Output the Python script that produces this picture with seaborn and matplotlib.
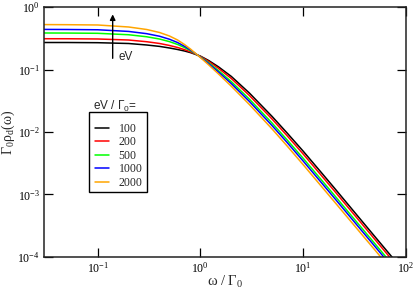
import matplotlib
matplotlib.use("Agg")
import matplotlib.pyplot as plt
from matplotlib.patches import Rectangle
import pandas as pd
import seaborn as sns

# omega / Gamma_0 sample points
omega = [0.03, 0.05, 0.1, 0.2, 0.3, 0.4, 0.5, 0.6, 0.7, 0.8, 1.0, 1.2, 1.5,
         2.0, 3.0, 5.0, 7.0, 10, 15, 20, 30, 50, 70, 100]

# Gamma_0 rho_d(omega) for each eV / Gamma_0
rho_100 = [0.2724, 0.2724, 0.2705, 0.2626, 0.2485, 0.2360, 0.2225, 0.2104,
           0.1991, 0.1877, 0.1649, 0.1407, 0.1111, 0.07795, 0.04222, 0.01773,
           0.009638, 0.004958, 0.002258, 0.001288, 0.0005779, 0.0002109,
           0.0001089, 0.00005418]
rho_200 = [0.3131, 0.3129, 0.3103, 0.2986, 0.2804, 0.2629, 0.2442, 0.2266,
           0.2095, 0.1931, 0.1632, 0.1361, 0.1051, 0.07223, 0.03861, 0.01609,
           0.008712, 0.004465, 0.002030, 0.001158, 0.0005201, 0.0001901,
           0.00009818, 0.00004884]
rho_500 = [0.3870, 0.3861, 0.3826, 0.3629, 0.3367, 0.3098, 0.2814, 0.2535,
           0.2262, 0.2014, 0.1605, 0.1294, 0.09670, 0.06434, 0.03371, 0.01388,
           0.007471, 0.003806, 0.001727, 0.0009851, 0.0004429, 0.0001623,
           0.00008380, 0.00004169]
rho_1000 = [0.4417, 0.4404, 0.4360, 0.4100, 0.3775, 0.3434, 0.3073, 0.2720,
            0.2373, 0.2069, 0.1589, 0.1253, 0.09177, 0.05985, 0.03096,
            0.01265, 0.006789, 0.003445, 0.001561, 0.0008905, 0.0004007,
            0.0001470, 0.00007590, 0.00003776]
rho_2000 = [0.5279, 0.5259, 0.5201, 0.4831, 0.4404, 0.3944, 0.3465, 0.2989,
            0.2532, 0.2144, 0.1566, 0.1201, 0.08551, 0.05427, 0.02761,
            0.01117, 0.005964, 0.003011, 0.001361, 0.0007767, 0.0003498,
            0.0001286, 0.00006639, 0.00003304]

series_labels = ["100", "200", "500", "1000", "2000"]
series_values = [rho_100, rho_200, rho_500, rho_1000, rho_2000]
colors = ["#000000", "#ff0000", "#00ff00", "#0000ff", "#ffa500"]

frames = []
for lab, vals in zip(series_labels, series_values):
    frames.append(pd.DataFrame({"omega": omega, "rho": vals, "eV": lab}))
df = pd.concat(frames, ignore_index=True)

sns.set_style("ticks")
plt.rcParams["font.family"] = ["Liberation Serif", "DejaVu Serif"]
plt.rcParams["mathtext.fontset"] = "custom"
plt.rcParams["mathtext.rm"] = "Liberation Serif"
plt.rcParams["mathtext.it"] = "Liberation Serif:italic"
plt.rcParams["mathtext.default"] = "regular"

fig = plt.figure(figsize=(4.15, 2.95), dpi=100)
ax = fig.add_axes([0.106, 0.1298, 0.8716, 0.8455])

sns.lineplot(data=df, x="omega", y="rho", hue="eV", palette=colors,
             hue_order=series_labels, linewidth=1.1, ax=ax, sort=True,
             estimator=None)

ax.set_xscale("log")
ax.set_yscale("log")
ax.set_xlim(0.03, 100)
ax.set_ylim(1e-4, 1)

ax.minorticks_off()
ax.tick_params(which="major", direction="in", length=6.5, width=0.9,
               top=True, right=True, labelsize=8.5, pad=3.0, colors="black")
for sp in ax.spines.values():
    sp.set_linewidth(1.1)
    sp.set_color("#222222")

ax.set_xlabel(r"$\mathregular{ω\ /\ Γ_0}$", fontsize=10.5)
ax.set_ylabel(r"$\mathregular{Γ_0ρ_d(ω)}$", fontsize=10)
ax.xaxis.set_label_coords(0.5, -0.07)
ax.yaxis.set_label_coords(-0.0735, 0.5)

handles, labels = ax.get_legend_handles_labels()
leg = ax.legend(handles, labels, loc="upper left",
                bbox_to_anchor=(0.141, 0.536), borderaxespad=0,
                frameon=False, fontsize=8.5,
                handlelength=1.2, handletextpad=0.8, labelspacing=0.12,
                borderpad=0)
ax.add_patch(Rectangle((0.1244, 0.2606), 0.1604, 0.3208,
                       transform=ax.transAxes, fill=False,
                       edgecolor="black", linewidth=1.0, zorder=5))

ax.text(0.1355, 0.588, "eV / Γ$_0$=", transform=ax.transAxes,
        fontsize=8.5, family=["Liberation Sans", "DejaVu Sans"],
        ha="left", va="baseline")

ax.annotate("", xy=(0.14, 0.77), xytext=(0.14, 0.152),
            arrowprops=dict(arrowstyle="-|>", color="black", lw=1.0,
                            mutation_scale=8, shrinkA=0, shrinkB=0))
ax.text(0.158, 0.157, "eV", fontsize=8.5,
        family=["Liberation Sans", "DejaVu Sans"], ha="left", va="center")

fig.savefig("out.png", dpi=100)
